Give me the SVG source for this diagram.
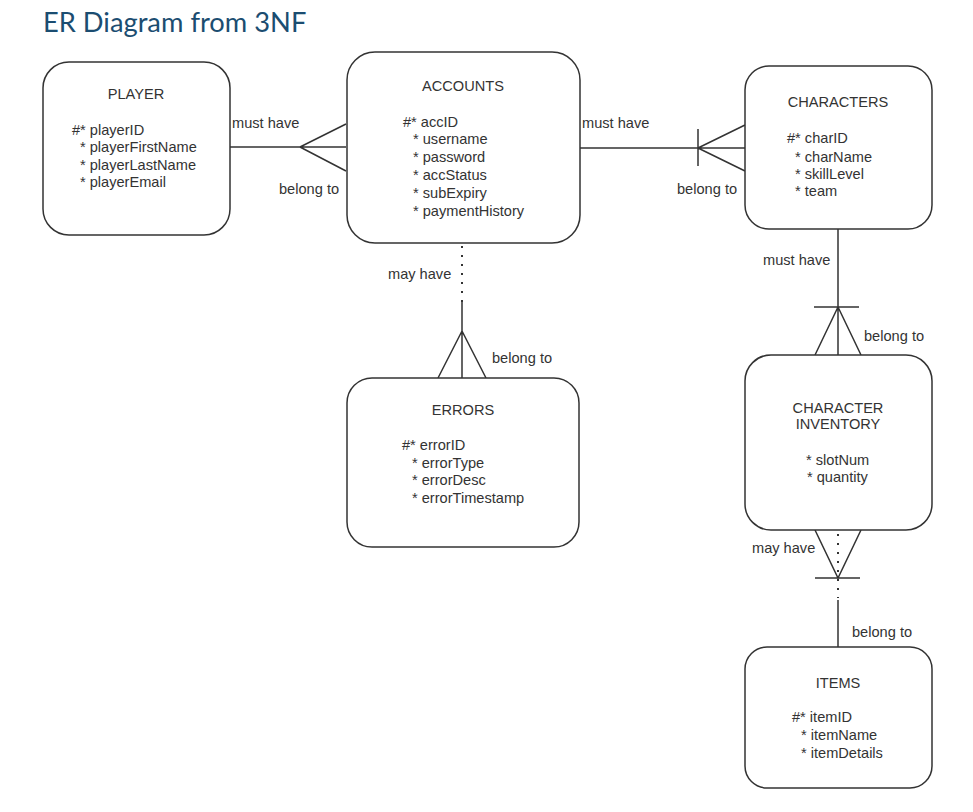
<svg xmlns="http://www.w3.org/2000/svg" width="973" height="812" viewBox="0 0 973 812">
<style>
.box{fill:#fff;stroke:#333;stroke-width:1.5}
.t{font-family:"Liberation Sans",Arial,sans-serif;font-size:14.6px;fill:#333}
.c{text-anchor:middle}
.ln{stroke:#333;stroke-width:1.5;fill:none}
.dot{stroke:#333;stroke-width:2;fill:none;stroke-dasharray:2 7}
.title{font-family:Lato,"Open Sans",sans-serif;font-size:27.3px;fill:#1b4d71}
</style>
<rect width="973" height="812" fill="#fff"/>
<text class="title" x="43" y="32">ER Diagram from 3NF</text>

<g id="connectors">
  <!-- PLAYER - ACCOUNTS -->
  <path class="ln" d="M229 147 H346 M300 147 L346 124 M300 147 L346 171"/>
  <text class="t" x="232" y="128">must have</text>
  <text class="t" x="279" y="194">belong to</text>
  <!-- ACCOUNTS - CHARACTERS -->
  <path class="ln" d="M580 148 H745 M698 148 L745 125 M698 148 L745 171 M698 129 V166"/>
  <text class="t" x="582" y="128">must have</text>
  <text class="t" x="677" y="194">belong to</text>
  <!-- ACCOUNTS - ERRORS -->
  <path class="dot" d="M462 246 V302"/>
  <path class="ln" d="M462 302 V378 M462 331 L438 378 M462 331 L486 378"/>
  <text class="t" x="388" y="279">may have</text>
  <text class="t" x="492" y="363">belong to</text>
  <!-- CHARACTERS - CHARACTER INVENTORY -->
  <path class="ln" d="M838 229 V355 M814 307 H859 M838 307 L815 355 M838 307 L861 355"/>
  <text class="t" x="763" y="265">must have</text>
  <text class="t" x="864" y="341">belong to</text>
  <!-- CHARACTER INVENTORY - ITEMS -->
  <path class="dot" d="M838 534 V598"/>
  <path class="ln" d="M815 530 L838 578 L861 530 M815 578 H860 M838 600 V647"/>
  <text class="t" x="752" y="553">may have</text>
  <text class="t" x="852" y="637">belong to</text>
</g>

<g id="player">
  <rect class="box" x="43" y="62" width="187" height="173" rx="26"/>
  <text class="t c" x="136" y="99">PLAYER</text>
  <text class="t" x="72" y="135">#* playerID</text>
  <text class="t" x="80" y="152">* playerFirstName</text>
  <text class="t" x="80" y="170">* playerLastName</text>
  <text class="t" x="80" y="187">* playerEmail</text>
</g>

<g id="accounts">
  <rect class="box" x="347" y="52" width="233" height="191" rx="28"/>
  <text class="t c" x="463" y="91">ACCOUNTS</text>
  <text class="t" x="403" y="127">#* accID</text>
  <text class="t" x="413" y="144">* username</text>
  <text class="t" x="413" y="162">* password</text>
  <text class="t" x="413" y="180">* accStatus</text>
  <text class="t" x="413" y="198">* subExpiry</text>
  <text class="t" x="413" y="216">* paymentHistory</text>
</g>

<g id="characters">
  <rect class="box" x="745" y="66" width="187" height="163" rx="24"/>
  <text class="t c" x="838" y="107">CHARACTERS</text>
  <text class="t" x="787" y="143">#* charID</text>
  <text class="t" x="795" y="162">* charName</text>
  <text class="t" x="795" y="179">* skillLevel</text>
  <text class="t" x="795" y="196">* team</text>
</g>

<g id="errors">
  <rect class="box" x="347" y="378" width="232" height="169" rx="25"/>
  <text class="t c" x="463" y="415">ERRORS</text>
  <text class="t" x="402" y="450">#* errorID</text>
  <text class="t" x="412" y="468">* errorType</text>
  <text class="t" x="412" y="485">* errorDesc</text>
  <text class="t" x="412" y="503">* errorTimestamp</text>
</g>

<g id="character-inventory">
  <rect class="box" x="745" y="355" width="187" height="175" rx="26"/>
  <text class="t c" x="838" y="413">CHARACTER</text>
  <text class="t c" x="838" y="429">INVENTORY</text>
  <text class="t" x="806" y="465">* slotNum</text>
  <text class="t" x="807" y="482">* quantity</text>
</g>

<g id="items">
  <rect class="box" x="745" y="647" width="187" height="141" rx="22"/>
  <text class="t c" x="838" y="688">ITEMS</text>
  <text class="t" x="792" y="722">#* itemID</text>
  <text class="t" x="801" y="740">* itemName</text>
  <text class="t" x="801" y="758">* itemDetails</text>
</g>
</svg>
